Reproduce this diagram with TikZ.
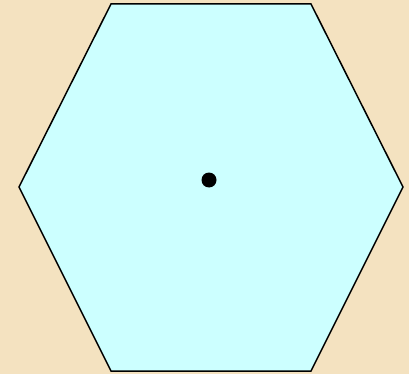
\documentclass[tikz,border=0pt]{standalone}
\usepackage{tikz}
\definecolor{parchment}{HTML}{F4E2C0}
\definecolor{hexfill}{HTML}{CCFFFF}

\begin{document}
\begin{tikzpicture}[x=1pt,y=-1pt]
\fill[parchment] (0,0) rectangle (409,374);
\useasboundingbox (0,0) rectangle (409,374);
\draw[line width=1.5pt, fill=hexfill, line join=miter]
  (111,4) -- (311,4) -- (403,187) -- (311,371) -- (111,371) -- (19,187) -- cycle;
\fill[black] (209,180) circle (7.5);
\end{tikzpicture}
\end{document}
